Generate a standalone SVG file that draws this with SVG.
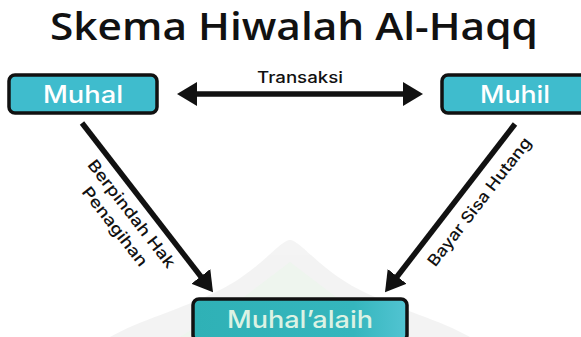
<svg xmlns="http://www.w3.org/2000/svg" width="581" height="337" viewBox="0 0 581 337">
  <style>
    .box { fill: #3fbccd; stroke: #111; stroke-width: 3.5; }
    .boxlabel { font-family: Inter, "Open Sans", "Liberation Sans", sans-serif; font-weight: 500; font-size: 24px; fill: #ffffff; text-anchor: middle; }
    .title { font-family: "Open Sans", "Liberation Sans", sans-serif; font-weight: 600; font-size: 38px; fill: #111; }
    .edge { font-family: Inter, "Open Sans", "Liberation Sans", sans-serif; font-weight: 500; font-size: 16px; fill: #111; text-anchor: middle; }
    .conn { stroke: #111; stroke-width: 5.5; fill: none; }
  </style>
  <defs>
    <marker id="arrow" markerUnits="userSpaceOnUse" markerWidth="20" markerHeight="24" viewBox="0 0 20 24" refX="2" refY="12" orient="auto-start-reverse">
      <path d="M0,0 L20,12 L0,24 z" fill="#111"/>
    </marker>
    <linearGradient id="bottomFill" x1="0" y1="0" x2="1" y2="0">
      <stop offset="0" stop-color="#2fb1b6"/>
      <stop offset="0.75" stop-color="#35b6bd"/>
      <stop offset="1" stop-color="#52c4d2"/>
    </linearGradient>
  </defs>

  <rect width="581" height="337" fill="#ffffff"/>

  <g id="watermark" opacity="0.6">
    <path d="M290,240 C300,240 320,270 360,290 C400,310 440,320 470,337 L110,337 C140,320 180,310 220,290 C260,270 280,240 290,240 Z" fill="#ececec"/>
    <path d="M290,262 L340,300 L400,337 L180,337 L240,300 Z" fill="#e3efe3"/>
  </g>

  <text class="title" x="50" y="40" textLength="488" lengthAdjust="spacingAndGlyphs">Skema Hiwalah Al-Haqq</text>

  <g id="connectors">
    <g id="edge-transaksi">
      <line class="conn" x1="195" y1="94" x2="405" y2="94" marker-start="url(#arrow)" marker-end="url(#arrow)"/>
      <text class="edge" x="300" y="83" textLength="86" lengthAdjust="spacingAndGlyphs">Transaksi</text>
    </g>
    <g id="edge-berpindah">
      <line class="conn" x1="82" y1="123" x2="202" y2="278" marker-end="url(#arrow)"/>
      <g transform="translate(82,123) rotate(52.2)">
        <text class="edge" x="102" y="22" textLength="132" lengthAdjust="spacingAndGlyphs">Berpindah Hak</text>
        <text class="edge" x="102" y="43" textLength="96" lengthAdjust="spacingAndGlyphs">Penagihan</text>
      </g>
    </g>
    <g id="edge-bayar">
      <line class="conn" x1="515" y1="124" x2="396" y2="278" marker-end="url(#arrow)"/>
      <g transform="translate(385,292) rotate(-52.3)">
        <text class="edge" x="129" y="25" textLength="158" lengthAdjust="spacingAndGlyphs">Bayar Sisa Hutang</text>
      </g>
    </g>
  </g>

  <g id="node-muhal">
    <rect class="box" x="9" y="75" width="148" height="38" rx="6"/>
    <text class="boxlabel" x="83" y="103" textLength="80" lengthAdjust="spacingAndGlyphs">Muhal</text>
  </g>

  <g id="node-muhil">
    <rect class="box" x="442" y="75" width="148" height="38" rx="6"/>
    <text class="boxlabel" x="515" y="103" textLength="70" lengthAdjust="spacingAndGlyphs">Muhil</text>
  </g>

  <g id="node-muhalalaih">
    <rect class="box" x="193" y="299" width="214" height="42" rx="6" style="fill:url(#bottomFill)"/>
    <text class="boxlabel" x="300" y="328" textLength="146" lengthAdjust="spacingAndGlyphs" style="fill:#dcf2e4">Muhal’alaih</text>
  </g>
</svg>
